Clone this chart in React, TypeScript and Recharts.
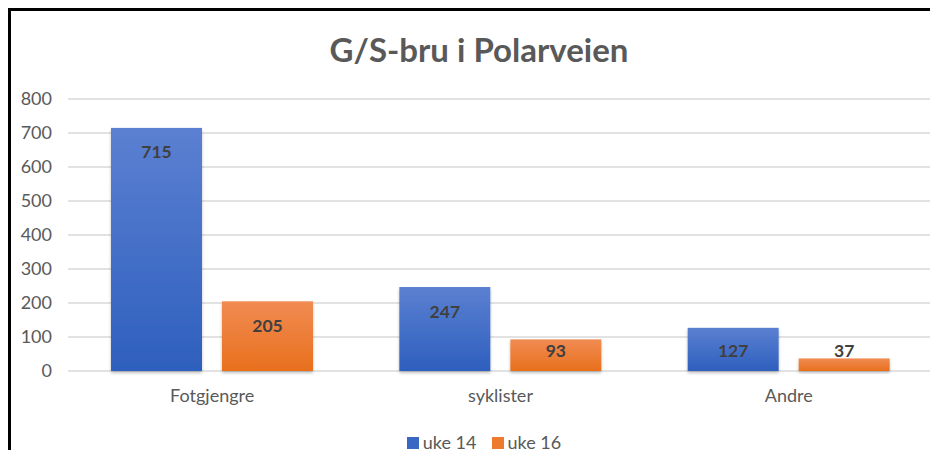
import React from 'react';
import { BarChart, Bar, XAxis, YAxis, CartesianGrid, Legend, LabelList } from 'recharts';

const categories = ['Fotgjengre', 'syklister', 'Andre'];
const uke14 = [715, 247, 127];
const uke16 = [205, 93, 37];
const yTicks = [0, 100, 200, 300, 400, 500, 600, 700, 800];

const SERIES = [
    { key: 'uke14', name: 'uke 14', top: '#5b80d1', bottom: '#2e5fbe', swatch: '#3a67c4' },
    { key: 'uke16', name: 'uke 16', top: '#f18b52', bottom: '#e8701d', swatch: '#ee7a2e' },
];

const data = categories.map((name, i) => ({ name, uke14: uke14[i], uke16: uke16[i] }));

const FONT = 'Lato, "Open Sans", sans-serif';

// Excel-style "inside end" label, pushed up when the bar is too short
const renderLabel = (props: any) => {
    const { x, y, width, height, value } = props;
    const cy = Math.min(y + 24, y + height - 21);
    return (
        <text
            x={x + width / 2}
            y={cy}
            textAnchor="middle"
            dominantBaseline="central"
            fill="#404040"
            fontSize={17.5}
            fontWeight={700}
            fontFamily={FONT}
        >
            {value}
        </text>
    );
};

const barShape = (gradId: string) => (props: any) => {
    const { x, y, width, height } = props;
    return <rect x={x} y={y} width={width} height={height} fill={`url(#${gradId})`} filter="url(#barShadow)" />;
};

const LegendContent = () => (
    <div style={{ display: 'flex', justifyContent: 'center', alignItems: 'center', fontFamily: FONT, fontSize: 18, color: '#595959', lineHeight: '21px' }}>
        {SERIES.map((s) => (
            <div key={s.key} style={{ display: 'flex', alignItems: 'center', marginRight: 15 }}>
                <span style={{ display: 'inline-block', width: 12, height: 12, background: s.swatch, marginRight: 4 }} />
                <span>{s.name}</span>
            </div>
        ))}
    </div>
);

export default function App() {
    return (
        <div
            style={{
                position: 'relative',
                width: 927,
                height: 439,
                borderTop: '3px solid #000',
                borderLeft: '3px solid #000',
                background: '#fff',
            }}
        >
            <div
                style={{
                    position: 'absolute',
                    left: 0,
                    width: 936,
                    top: 18,
                    textAlign: 'center',
                    fontFamily: FONT,
                    fontWeight: 700,
                    fontSize: 33,
                    color: '#595959',
                    whiteSpace: 'nowrap',
                }}
            >
                G/S-bru i Polarveien
            </div>
            <BarChart
                width={927}
                height={439}
                data={data}
                margin={{ top: 88, right: 5, bottom: 28, left: 0 }}
                barGap={20}
            >
                <defs>
                    {SERIES.map((s) => (
                        <linearGradient key={s.key} id={`grad-${s.key}`} x1="0" y1="0" x2="0" y2="1">
                            <stop offset="0%" stopColor={s.top} />
                            <stop offset="100%" stopColor={s.bottom} />
                        </linearGradient>
                    ))}
                    <filter id="barShadow" x="-10%" y="-10%" width="120%" height="130%">
                        <feDropShadow dx="0" dy="2" stdDeviation="1.5" floodColor="#000" floodOpacity="0.25" />
                    </filter>
                </defs>
                <CartesianGrid vertical={false} stroke="#d9d9d9" strokeWidth={1.5} />
                <XAxis
                    dataKey="name"
                    height={30}
                    axisLine={false}
                    tickLine={false}
                    tickSize={0}
                    tickMargin={18}
                    tick={{ fill: '#595959', fontSize: 18, fontFamily: FONT }}
                />
                <YAxis
                    width={57}
                    domain={[0, 800]}
                    ticks={yTicks}
                    axisLine={false}
                    tickLine={false}
                    tickSize={0}
                    tickMargin={16}
                    tick={{ fill: '#595959', fontSize: 18, fontFamily: FONT }}
                />
                <Legend verticalAlign="bottom" content={<LegendContent />} wrapperStyle={{ left: 0, width: 961, top: 421 }} />
                {SERIES.map((s) => (
                    <Bar
                        key={s.key}
                        dataKey={s.key}
                        name={s.name}
                        fill={s.swatch}
                        barSize={91}
                        shape={barShape(`grad-${s.key}`)}
                        isAnimationActive={false}
                    >
                        <LabelList dataKey={s.key} content={renderLabel} />
                    </Bar>
                ))}
            </BarChart>
        </div>
    );
}
